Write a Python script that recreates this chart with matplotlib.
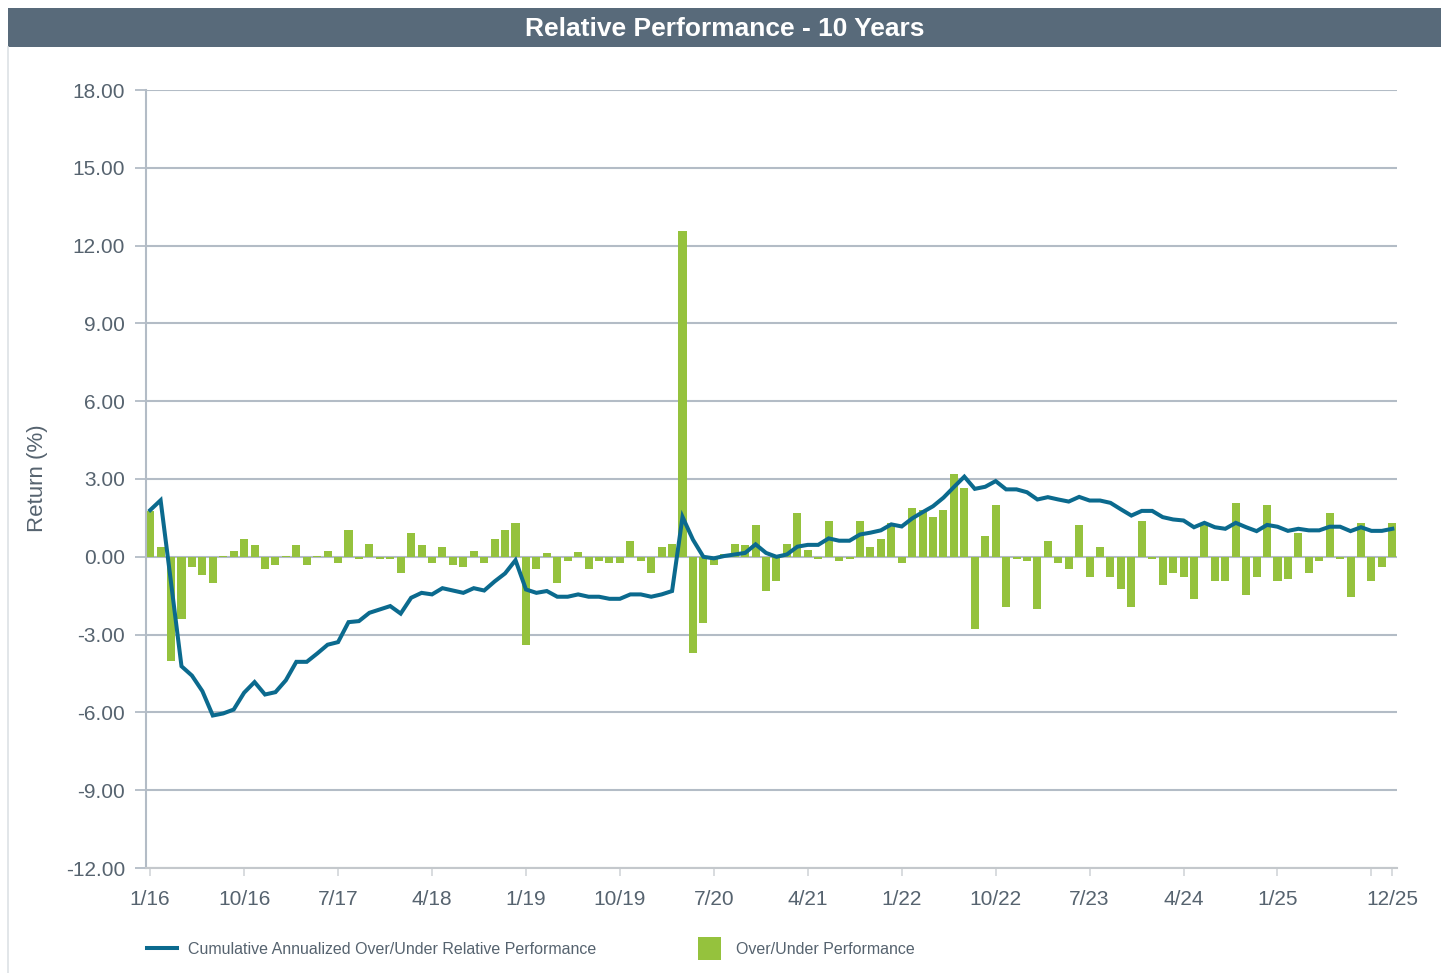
import matplotlib
matplotlib.use("Agg")
import matplotlib.pyplot as plt
from matplotlib.patches import Rectangle
from matplotlib.lines import Line2D
import numpy as np

plt.rcParams['font.family'] = ['Liberation Sans', 'DejaVu Sans']

# monthly over/under performance, Jan 2016 .. Dec 2025
bars = [1.76, 0.36, -4.02, -2.40, -0.40, -0.71, -1.02, 0.05, 0.22, 0.67,
        0.44, -0.48, -0.32, 0.05, 0.44, -0.32, 0.05, 0.22, -0.24, 1.05,
        -0.08, 0.51, -0.08, -0.08, -0.63, 0.90, 0.44, -0.24, 0.36, -0.32,
        -0.40, 0.21, -0.24, 0.67, 1.05, 1.29, -3.41, -0.48, 0.13, -1.02,
        -0.17, 0.19, -0.48, -0.17, -0.24, -0.24, 0.59, -0.17, -0.63, 0.36,
        0.51, 12.55, -3.71, -2.56, -0.32, 0.12, 0.51, 0.44, 1.21, -1.32,
        -0.94, 0.51, 1.68, 0.28, -0.08, 1.37, -0.17, -0.08, 1.37, 0.36,
        0.67, 1.29, -0.24, 1.90, 1.82, 1.52, 1.82, 3.21, 2.67, -2.79,
        0.82, 1.98, -1.94, -0.09, -0.17, -2.02, 0.59, -0.24, -0.48, 1.21,
        -0.78, 0.36, -0.78, -1.25, -1.94, 1.37, -0.09, -1.09, -0.63, -0.78,
        -1.63, 1.21, -0.94, -0.94, 2.06, -1.48, -0.78, 1.98, -0.94, -0.86,
        0.90, -0.63, -0.17, 1.67, -0.08, -1.56, 1.29, -0.94, -0.40, 1.29]

# cumulative annualized over/under relative performance
cumulative = [1.80, 2.18, -1.00, -4.22, -4.58, -5.18, -6.12, -6.04, -5.89, -5.24,
              -4.83, -5.31, -5.22, -4.76, -4.05, -4.05, -3.73, -3.39, -3.29, -2.52,
              -2.48, -2.16, -2.03, -1.90, -2.19, -1.58, -1.39, -1.45, -1.21, -1.30,
              -1.39, -1.21, -1.30, -0.95, -0.64, -0.13, -1.26, -1.39, -1.32, -1.54,
              -1.54, -1.45, -1.54, -1.54, -1.62, -1.62, -1.45, -1.45, -1.54, -1.45,
              -1.32, 1.54, 0.66, 0.00, -0.06, 0.03, 0.09, 0.15, 0.48, 0.15,
              0.00, 0.09, 0.39, 0.46, 0.46, 0.71, 0.62, 0.62, 0.86, 0.93,
              1.02, 1.25, 1.17, 1.48, 1.72, 1.95, 2.28, 2.69, 3.09, 2.62,
              2.70, 2.92, 2.60, 2.60, 2.49, 2.21, 2.30, 2.21, 2.13, 2.31,
              2.17, 2.17, 2.08, 1.83, 1.59, 1.77, 1.77, 1.53, 1.44, 1.40,
              1.14, 1.31, 1.14, 1.08, 1.31, 1.14, 0.99, 1.23, 1.16, 1.00,
              1.08, 1.02, 1.02, 1.16, 1.16, 0.99, 1.14, 1.00, 1.00, 1.08]

tick_months = [0, 9, 18, 27, 36, 45, 54, 63, 72, 81, 90, 99, 108, 117, 119]
tick_labels = ['1/16', '10/16', '7/17', '4/18', '1/19', '10/19', '7/20', '4/21',
               '1/22', '10/22', '7/23', '4/24', '1/25', '', '12/25']

GREEN = '#95c23d'
BLUE = '#0b6a8e'
GRID = '#b3bcc6'
TEXT = '#56636f'

W, H = 1441, 973
fig = plt.figure(figsize=(W / 100, H / 100), dpi=100)

# header bar
fig.add_artist(Rectangle((8 / W, 1 - 47 / H), 1, 39 / H, transform=fig.transFigure,
                         facecolor='#586a7a', edgecolor='none'))
fig.add_artist(Line2D([8 / W, 8 / W], [0, 1 - 47 / H], transform=fig.transFigure,
                      color='#dde1e5', lw=1.2))
fig.text(725 / W, 1 - 29 / H, 'Relative Performance - 10 Years', color='white',
         fontsize=19, fontweight='bold', ha='center', va='center')

ax = fig.add_axes([146 / W, 1 - 868 / H, (1397 - 146) / W, (868 - 90) / H])
x = np.arange(len(bars))
ax.bar(x, bars, width=0.77, color=GREEN, zorder=2)
ax.plot(x, cumulative, color=BLUE, lw=2.9, zorder=3, solid_joinstyle='miter')

ax.set_xlim(-0.4, 119.45)
ax.set_ylim(-12, 18)
ax.set_yticks(np.arange(-12, 19, 3))
ax.yaxis.set_major_formatter(matplotlib.ticker.FormatStrFormatter('%.2f'))
ax.set_xticks(tick_months)
ax.set_xticklabels(tick_labels)
ax.grid(axis='y', color=GRID, lw=1.5, zorder=0)
ax.set_axisbelow(True)

for s in ['top', 'right']:
    ax.spines[s].set_visible(False)
ax.spines['left'].set_color(GRID)
ax.spines['left'].set_linewidth(1.5)
ax.spines['bottom'].set_color('#c4c8cc')
ax.spines['bottom'].set_linewidth(1.5)

ax.tick_params(axis='y', length=8, width=1.3, color=GRID, pad=7,
               labelsize=15, labelcolor=TEXT)
ax.tick_params(axis='x', length=6, width=1.3, color='#d6d9dc', pad=10,
               labelsize=15, labelcolor=TEXT)

fig.text(38 / W, 1 - 478 / H, 'Return (%)', rotation=90, ha='center', va='center',
         fontsize=16, color=TEXT)

# legend
fig.add_artist(Line2D([147 / W, 177 / W], [1 - 948 / H, 1 - 948 / H],
                      transform=fig.transFigure, color=BLUE, lw=2.9))
fig.text(188 / W, 1 - 949 / H, 'Cumulative Annualized Over/Under Relative Performance',
         fontsize=11.5, color=TEXT, va='center')
fig.add_artist(Rectangle((698 / W, 1 - 960 / H), 23 / W, 23 / H, transform=fig.transFigure,
                         facecolor=GREEN, edgecolor='none'))
fig.text(736 / W, 1 - 949 / H, 'Over/Under Performance', fontsize=11.5, color=TEXT,
         va='center')

fig.savefig('out.png', dpi=100)
